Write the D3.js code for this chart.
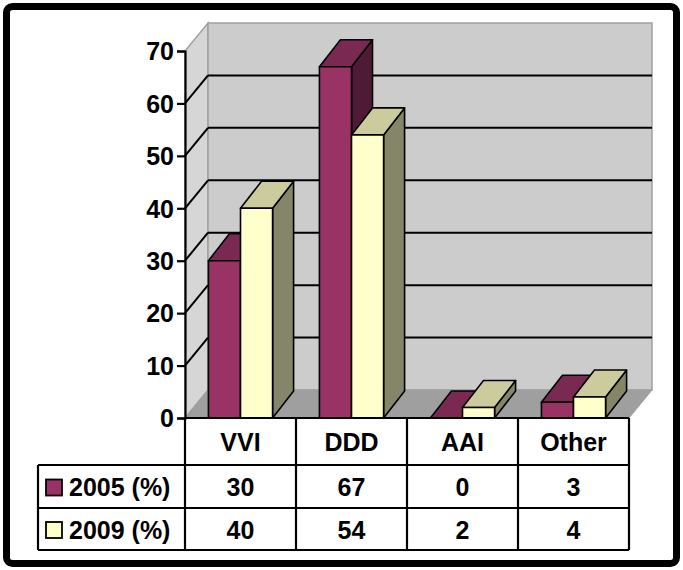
<!DOCTYPE html>
<html>
<head>
<meta charset="utf-8">
<script src="https://cdn.jsdelivr.net/npm/d3@7/dist/d3.min.js"></script>
<style>
  html, body { margin: 0; padding: 0; background: #ffffff; }
  svg { display: block; }
  text { font-family: "Liberation Sans", Arial, sans-serif; font-weight: bold; fill: #000; }
</style>
</head>
<body>
<svg id="chart" width="683" height="570"></svg>
<script>
// ---- data ----
const categories = ["VVI", "DDD", "AAI", "Other"];
const seriesNames = ["2005 (%)", "2009 (%)"];
const values2005 = [30, 67, 0, 3];
const values2009 = [40, 54, 2, 4];
const yTicks = [0, 10, 20, 30, 40, 50, 60, 70];

const seriesValues = [values2005, values2009];
const frontColors = ["#993366", "#ffffcc"];
const topColors = ["#7a2952", "#cbcb9d"];
const sideColors = ["#4f1a35", "#85856a"];

const svg = d3.select("#chart");

// outer frame
svg.append("rect").attr("x", 6.5).attr("y", 6.5).attr("width", 670).attr("height", 557)
  .attr("rx", 6).attr("fill", "#fff").attr("stroke", "#000").attr("stroke-width", 7);

// scales
const y = d3.scaleLinear().domain([0, 70]).range([418, 51]);
const x0 = d3.scaleBand().domain(categories).range([185, 629]).padding(0);
const x1 = d3.scaleBand().domain(seriesNames).range([0, x0.bandwidth()]).paddingInner(0).paddingOuter(0.73);

const wdx = 23, wdy = -28;   // wall depth offset
const bdx = 21, bdy = -27;   // bar depth offset

const xL = x0.range()[0], xR = x0.range()[1];
const yB = y(0), yT = y(70);

// left wall
svg.append("polygon")
  .attr("points", [[xL, yB], [xL, yT], [xL + wdx, yT + wdy], [xL + wdx, yB + wdy]].join(" "))
  .attr("fill", "#d6d6d6").attr("stroke", "#a0a0a0").attr("stroke-width", 1.5);
// back wall
svg.append("rect").attr("x", xL + wdx).attr("y", yT + wdy)
  .attr("width", xR - xL).attr("height", yB - yT)
  .attr("fill", "#cccccc").attr("stroke", "#a0a0a0").attr("stroke-width", 1.5);
// floor
svg.append("polygon")
  .attr("points", [[xL, yB], [xR, yB], [xR + wdx, yB + wdy], [xL + wdx, yB + wdy]].join(" "))
  .attr("fill", "#9f9f9f").attr("stroke", "#9f9f9f").attr("stroke-width", 1);

// gridlines
const gridVals = yTicks.filter(v => v > 0 && v < 70);
const grid = svg.append("g").attr("stroke", "#000").attr("stroke-width", 2).attr("fill", "none");
gridVals.forEach(v => {
  grid.append("line").attr("x1", xL + wdx).attr("x2", xR + wdx)
    .attr("y1", y(v) + wdy).attr("y2", y(v) + wdy);
  grid.append("line").attr("x1", xL).attr("x2", xL + wdx)
    .attr("y1", y(v)).attr("y2", y(v) + wdy);
});

// bars
const bars = svg.append("g").attr("stroke", "#000").attr("stroke-width", 1.6).attr("stroke-linejoin", "round");
categories.forEach((c, ci) => {
  seriesNames.forEach((s, si) => {
    const v = seriesValues[si][ci];
    const xl = x0(c) + x1(s);
    const w = x1.bandwidth();
    const yt = y(v), y0 = y(0);
    // side
    bars.append("polygon")
      .attr("points", [[xl + w, y0], [xl + w, yt], [xl + w + bdx, yt + bdy], [xl + w + bdx, y0 + bdy]].join(" "))
      .attr("fill", sideColors[si]);
    // top
    bars.append("polygon")
      .attr("points", [[xl, yt], [xl + w, yt], [xl + w + bdx, yt + bdy], [xl + bdx, yt + bdy]].join(" "))
      .attr("fill", topColors[si]);
    // front
    if (v > 0) {
      bars.append("rect").attr("x", xl).attr("y", yt).attr("width", w).attr("height", y0 - yt)
        .attr("fill", frontColors[si]);
    }
  });
});

// y axis
const axis = svg.append("g").attr("transform", `translate(${xL},0)`)
  .call(d3.axisLeft(y).tickValues(yTicks).tickSize(8).tickPadding(3).tickFormat(d3.format("d")));
axis.select(".domain").attr("stroke", "#000").attr("stroke-width", 2.2);
axis.selectAll(".tick line").attr("stroke", "#000").attr("stroke-width", 2.2);
axis.selectAll(".tick text").attr("font-size", 25).attr("font-family", "Liberation Sans, Arial, sans-serif")
  .attr("font-weight", "bold").attr("fill", "#000").attr("dy", "0.35em");

// data table
const rowTop = [418, 465, 508], rowBot = 550;
const tableLeft = 38;
const tbl = svg.append("g").attr("stroke", "#000").attr("stroke-width", 2.2).attr("fill", "none");
// horizontal lines
tbl.append("line").attr("x1", xL).attr("x2", xR).attr("y1", rowTop[0]).attr("y2", rowTop[0]);
tbl.append("line").attr("x1", tableLeft).attr("x2", xR).attr("y1", rowTop[1]).attr("y2", rowTop[1]);
tbl.append("line").attr("x1", tableLeft).attr("x2", xR).attr("y1", rowTop[2]).attr("y2", rowTop[2]);
tbl.append("line").attr("x1", tableLeft).attr("x2", xR).attr("y1", rowBot).attr("y2", rowBot);
// vertical lines
tbl.append("line").attr("x1", tableLeft).attr("x2", tableLeft).attr("y1", rowTop[1]).attr("y2", rowBot);
categories.forEach(c => {
  tbl.append("line").attr("x1", x0(c)).attr("x2", x0(c)).attr("y1", rowTop[0]).attr("y2", rowBot);
});
tbl.append("line").attr("x1", xR).attr("x2", xR).attr("y1", rowTop[0]).attr("y2", rowBot);

const rowMid = [ (rowTop[0] + rowTop[1]) / 2 + 1, (rowTop[1] + rowTop[2]) / 2 + 1, (rowTop[2] + rowBot) / 2 + 1 ];

// header
categories.forEach(c => {
  svg.append("text").attr("x", x0(c) + x0.bandwidth() / 2).attr("y", rowMid[0])
    .attr("text-anchor", "middle").attr("dy", "0.35em").attr("font-size", 25).text(c);
});
// rows
seriesNames.forEach((s, si) => {
  const ym = rowMid[si + 1];
  svg.append("rect").attr("x", 46).attr("y", ym - 8).attr("width", 16).attr("height", 16)
    .attr("fill", frontColors[si]).attr("stroke", "#000").attr("stroke-width", 1.8);
  svg.append("text").attr("x", 69).attr("y", ym).attr("dy", "0.35em").attr("font-size", 25).text(s);
  categories.forEach((c, ci) => {
    svg.append("text").attr("x", x0(c) + x0.bandwidth() / 2).attr("y", ym)
      .attr("text-anchor", "middle").attr("dy", "0.35em").attr("font-size", 25)
      .text(seriesValues[si][ci]);
  });
});
</script>
</body>
</html>
